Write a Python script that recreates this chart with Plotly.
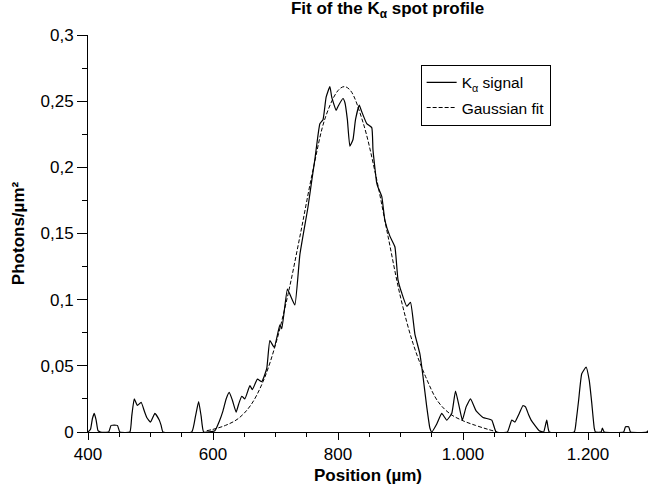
import plotly.graph_objects as go

# ---------- DATA ----------
signal_x = [400, 404, 407, 410, 413, 416, 420,
            433, 437, 447, 451,
            467, 470, 474, 479, 485, 490, 494, 500, 507, 514, 517, 520,
            566, 572, 577, 581, 585,
            603, 610, 616, 621, 626, 631, 637, 641, 646, 651, 659, 663, 671, 678,
            686, 691, 698, 707, 710, 719, 724, 731, 739, 752, 758, 763, 771, 776,
            781, 787, 790, 797, 800, 808, 811, 815, 819, 824, 828, 834, 838, 846,
            854, 856, 862, 864, 870, 875, 883, 891, 896, 902, 910, 916, 923, 931,
            936, 942, 947, 950, 958, 966, 974, 982, 988, 994, 999, 1005, 1012,
            1021, 1032, 1046, 1053,
            1071, 1078, 1083, 1090, 1096, 1100, 1105, 1109, 1122, 1129, 1134, 1138,
            1178, 1181, 1185, 1190, 1197, 1202, 1206, 1210, 1212,
            1221, 1223, 1226, 1257, 1260, 1265, 1268, 1294, 1300]
signal_y = [0, 0.002, 0.010, 0.014, 0.009, 0.001, 0,
            0, 0.005, 0.005, 0,
            0, 0.012, 0.025, 0.020, 0.0225, 0.016, 0.011, 0.0075, 0.014, 0.009, 0.005, 0,
            0, 0.012, 0.023, 0.012, 0,
            0.001, 0.008, 0.016, 0.025, 0.030, 0.024, 0.015, 0.021, 0.027, 0.025, 0.035, 0.032, 0.040, 0.038,
            0.048, 0.069, 0.064, 0.081, 0.078, 0.108, 0.103, 0.096, 0.134, 0.170, 0.190, 0.206, 0.233, 0.236,
            0.253, 0.261, 0.253, 0.243, 0.246, 0.252, 0.249, 0.236, 0.216, 0.221, 0.236, 0.247, 0.242, 0.233,
            0.230, 0.213, 0.188, 0.185, 0.178, 0.160, 0.148, 0.140, 0.115, 0.105, 0.095, 0.098, 0.074, 0.059,
            0.042, 0.019, 0.003, 0, 0.006, 0.014, 0.009, 0.014, 0.031, 0.019, 0.009, 0.019, 0.025,
            0.016, 0.011, 0.009, 0,
            0, 0.009, 0.0075, 0.014, 0.020, 0.019, 0.013, 0.009, 0.001, 0, 0.009, 0,
            0, 0.008, 0.024, 0.044, 0.049, 0.039, 0.022, 0.003, 0,
            0, 0.003, 0, 0, 0.004, 0.004, 0, 0, 0.003]

fit_x = [590, 600, 620, 640, 660, 680, 700, 720, 740, 760, 780, 800, 810,
         820, 840, 860, 880, 900, 920, 940, 960, 980, 1000, 1020, 1040, 1055]
fit_y = [0.001, 0.002, 0.005, 0.010, 0.020, 0.038, 0.066, 0.104, 0.150, 0.198,
         0.238, 0.258, 0.261, 0.258, 0.234, 0.195, 0.148, 0.102, 0.067, 0.042,
         0.023, 0.0135, 0.0085, 0.005, 0.002, 0]

x_ticks = [400, 600, 800, 1000, 1200]
x_labels = ["400", "600", "800", "1.000", "1.200"]
y_ticks = [0, 0.05, 0.1, 0.15, 0.2, 0.25, 0.3]
y_labels = ["0", "0,05", "0,1", "0,15", "0,2", "0,25", "0,3"]

FONT = "Liberation Sans, Arial, sans-serif"

# ---------- FIGURE ----------
fig = go.Figure()
fig.add_trace(go.Scatter(x=signal_x, y=signal_y, mode="lines",
                         name="K<sub>α</sub> signal", legendgroup="a",
                         line=dict(color="black", width=1.2, shape="spline", smoothing=0.4)))
fig.add_trace(go.Scatter(x=fit_x, y=fit_y, mode="lines", name="Gaussian fit", legendgroup="b",
                         line=dict(color="black", width=1, dash="4px,2px", shape="spline")))

fig.update_layout(
    width=648, height=489,
    margin=dict(l=88, r=0, t=35, b=57),
    paper_bgcolor="white", plot_bgcolor="white",
    font=dict(family=FONT, size=17, color="black"),
    title=dict(text="<b>Fit of the K<sub>α</sub> spot profile</b>",
               x=0.535, xref="paper", xanchor="center", y=0.995, yanchor="top",
               font=dict(size=17)),
    legend=dict(x=0.594, y=0.925, xanchor="left", yanchor="top",
                bordercolor="black", borderwidth=1, bgcolor="white",
                font=dict(size=15.5), traceorder="grouped", tracegroupgap=2),
)
fig.update_xaxes(range=[400, 1296], tickvals=x_ticks, ticktext=x_labels,
                 showline=True, linecolor="black", linewidth=1,
                 ticks="outside", ticklen=7, tickcolor="black", showgrid=False, zeroline=False,
                 minor=dict(ticks="outside", dtick=50, ticklen=4, tickcolor="black", showgrid=False),
                 automargin=False,
                 title=dict(text="<b>Position (µm)</b>", standoff=5, font=dict(size=17)))
fig.update_yaxes(range=[0, 0.3], tickvals=y_ticks, ticktext=y_labels,
                 showline=True, linecolor="black", linewidth=1,
                 ticks="outside", ticklen=10, tickcolor="black", showgrid=False, zeroline=False,
                 minor=dict(ticks="outside", dtick=0.025, ticklen=5, tickcolor="black", showgrid=False),
                 automargin=False,
                 title=dict(text="<b>Photons/µm²</b>", standoff=11, font=dict(size=17)))

# page has a default body margin; remove it so the figure sits at the window corner
fig.write_html("out.html", config={"displayModeBar": False},
               post_script="document.body.style.margin='0';")
